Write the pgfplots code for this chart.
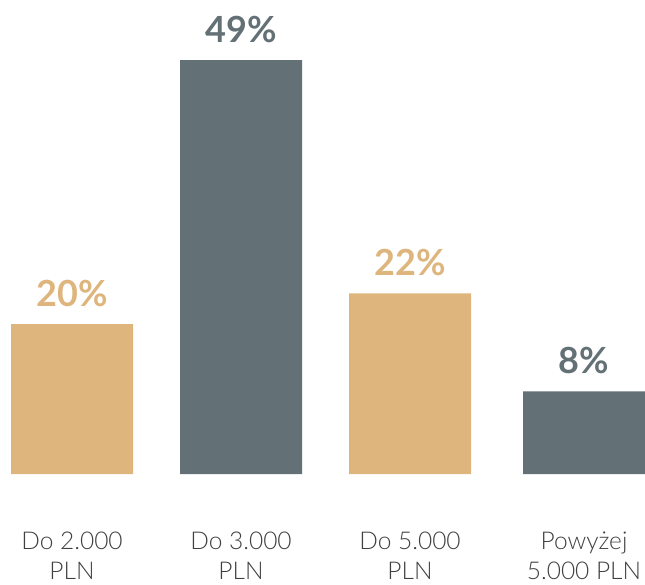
\documentclass[border=0pt]{standalone}
\usepackage{pgfplots}
\pgfplotsset{compat=1.18}
\usepackage{fontspec}
\setmainfont{Lato}
\newfontfamily\lightfont{Lato Light}
\definecolor{tan}{HTML}{DDB57D}
\definecolor{slate}{HTML}{637177}
\begin{document}
\begin{tikzpicture}
\begin{axis}[
  scale only axis,
  width=645pt, height=474pt,
  xmin=0, xmax=645,
  ymin=0, ymax=56.1,
  axis line style={draw=none},
  ytick=\empty,
  xtick={72,241,410,584},
  xticklabels={{Do 2.000\\PLN},{Do 3.000\\PLN},{Do 5.000\\PLN},{Powyżej\\5.000 PLN}},
  major tick length=0pt,
  xticklabel style={anchor=base, yshift=-105pt, align=center, inner sep=0pt,
    font=\lightfont\fontsize{24.5}{30}\selectfont, text=black!75},
  ybar, bar width=122pt,
  clip=false,
  nodes near coords,
  point meta=explicit symbolic,
  every node near coord/.append style={anchor=base, yshift=18pt, inner sep=0pt,
    font=\bfseries\fontsize{36}{40}\selectfont},
]
\addplot[fill=tan, draw=none, bar shift=0pt, nodes near coords style={text=tan}]
  table[meta=lab] {
x y lab
72 17.75 20\%
410 21.4 22\%
};
\addplot[fill=slate, draw=none, bar shift=0pt, nodes near coords style={text=slate}]
  table[meta=lab] {
x y lab
241 49 49\%
584 9.8 8\%
};
\pgfresetboundingbox
\path[use as bounding box] (rel axis cs:0,0) ++(0,-110pt) rectangle (rel axis cs:1,1);
\end{axis}
\end{tikzpicture}
\end{document}
